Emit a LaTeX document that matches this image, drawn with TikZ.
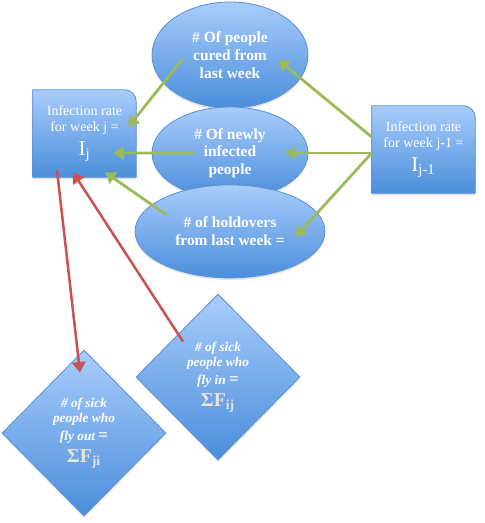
\documentclass[tikz,border=0pt]{standalone}
\usepackage{fontspec}
\setmainfont{Liberation Serif}
\usepackage{xcolor}
\usepackage{tikz}
\usetikzlibrary{positioning}
\usetikzlibrary{shapes.geometric}
\usetikzlibrary{arrows.meta}
\usetikzlibrary{backgrounds}
\usetikzlibrary{shadows}
\usetikzlibrary{calc}

\definecolor{shapetop}{HTML}{A9CCFB}
\definecolor{shapebot}{HTML}{4A8EDB}
\definecolor{shapeline}{HTML}{5B92D6}
\definecolor{flowgreen}{HTML}{9BBB59}
\definecolor{flowred}{HTML}{CC5250}
\definecolor{sumgrey}{HTML}{E9E3DA}

\tikzset{
  softshadow/.style={drop shadow={opacity=0.22, shadow xshift=0pt, shadow yshift=-1.5pt}},
  blob/.style={ellipse, softshadow, top color=shapetop, bottom color=shapebot, draw=shapeline, line width=0.6pt, text=white, align=center, font=\fontsize{11}{12.6}\selectfont\bfseries},
  kite/.style={diamond, softshadow, aspect=1, top color=shapetop, bottom color=shapebot, draw=shapeline, line width=0.6pt, text=white, align=center, inner sep=0pt, minimum width=4.1cm, minimum height=4.15cm, font=\fontsize{9.5}{10.8}\selectfont\bfseries\itshape},
  ratebox/.style={minimum width=2.575cm, minimum height=2.175cm, text=white, align=center, font=\fontsize{10}{11.5}\selectfont},
  boxfill/.style={softshadow, top color=shapetop, bottom color=shapebot, draw=shapeline, line width=0.6pt},
  greenarrow/.style={flowgreen, line width=2pt, -{Triangle[width=9.5pt,length=7.5pt]}},
  redarrow/.style={flowred, line width=1.8pt, -{Triangle[width=9.5pt,length=7.5pt]}}
}

\newcommand{\bigsum}[1]{\textcolor{sumgrey}{\fontsize{14}{16}\selectfont\upshape\bfseries ΣF\textsubscript{#1}}}
\newcommand{\bigeq}{{\upshape\fontsize{12}{12}\selectfont =}}

\begin{document}
\begin{tikzpicture}
\useasboundingbox (0,0) rectangle (12.125,13.075);

\node[blob, minimum width=3.9cm, minimum height=2.65cm] (cured) at (5.75,11.7) {\# Of people\\cured from\\last week};
\node[blob, minimum width=3.9cm, minimum height=2.3cm] (newly) at (5.75,9.25) {\# Of newly\\infected\\people};
\node[blob, minimum width=4.75cm, minimum height=2.325cm] (hold) at (5.75,7.29) {\# of holdovers\\from last week =};

\node[ratebox] (lj) at (2.1125,9.7375) {Infection rate\\for week j =\\[4pt]{\fontsize{15}{17}\selectfont I\textsubscript{j}}};
\node[ratebox] (ri) at (10.5875,9.3375) {Infection rate\\for week j-1 =\\[4pt]{\fontsize{15}{17}\selectfont I\textsubscript{j-1}}};

\begin{scope}[on background layer]
\path[boxfill] (lj.south west) -- (lj.north west) -- ([xshift=-0.3cm]lj.north east) arc[start angle=90, end angle=0, radius=0.3cm] -- (lj.south east) -- cycle;
\path[boxfill] (ri.south west) -- (ri.north west) -- ([xshift=-0.3cm]ri.north east) arc[start angle=90, end angle=0, radius=0.3cm] -- (ri.south east) -- cycle;
\end{scope}

\node[kite] (flyout) at (2.1,2.25) {\# of sick\\people who\\[2pt]fly out \bigeq\\[3pt]\bigsum{ji}};
\node[kite] (flyin) at (5.45,3.65) {\# of sick\\people who\\[2pt]fly in \bigeq\\[3pt]\bigsum{ij}};

\draw[greenarrow] ([shift={(0.775,-0.1)}]cured.west) -- ([shift={(-0.2,0.1625)}]lj.east);
\draw[greenarrow] ([shift={(1.075,0)}]newly.west) -- ([shift={(-0.575,-0.4875)}]lj.east);
\draw[greenarrow] ([shift={(0.8,0.41)}]hold.west) -- ([shift={(0.5125,0.125)}]lj.south);

\draw[greenarrow] ([shift={(0,0.3125)}]ri.west) -- ([shift={(-0.75,-0.125)}]cured.east);
\draw[greenarrow] ([shift={(0,-0.0875)}]ri.west) -- ([shift={(-0.575,0)}]newly.east);
\draw[greenarrow] ([shift={(0,-0.0875)}]ri.west) -- ([shift={(-0.75,-0.14)}]hold.east);

\draw[redarrow] ([shift={(-0.6875,0.175)}]lj.south) -- ([shift={(-0.1,-0.575)}]flyout.north);
\draw[redarrow] ([shift={(-0.875,-1.2)}]flyin.north) -- ([shift={(-0.2875,0.125)}]lj.south);
\end{tikzpicture}
\end{document}
